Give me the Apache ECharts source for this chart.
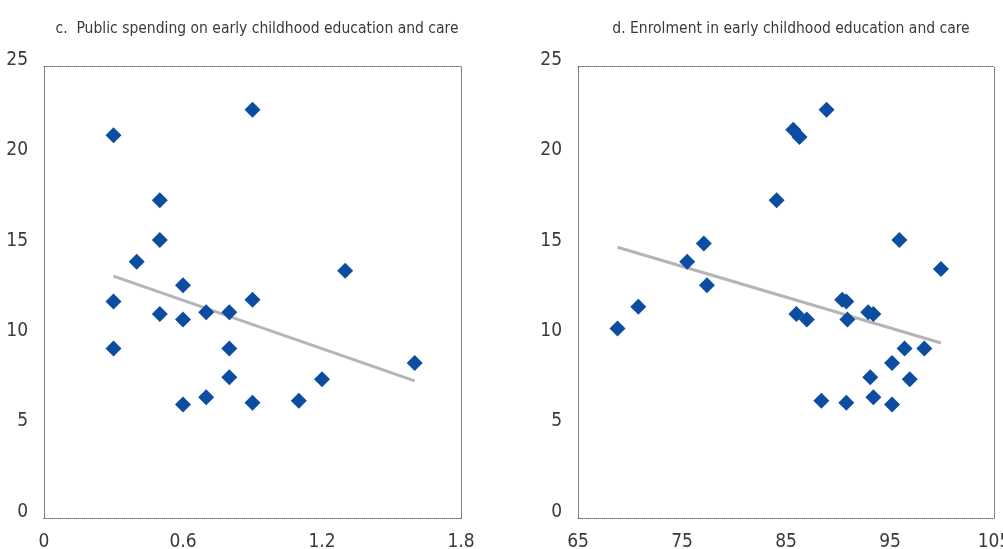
<!DOCTYPE html>
<html>
<head>
<meta charset="utf-8">
<script src="https://cdn.jsdelivr.net/npm/echarts@6/dist/echarts.min.js"></script>
<style>
  html, body { margin: 0; padding: 0; background: #fff; }
  #chart { width: 1003px; height: 549px; }
</style>
</head>
<body>
<div id="chart"></div>
<script>
// Panel c: public spending on ECEC (x) against the outcome rate (y)
const spendC = [0.3, 0.9, 0.5, 0.5, 0.4, 1.3, 0.6, 0.3, 0.9, 0.5, 0.6, 0.7, 0.8, 0.3, 0.8, 1.6, 0.8, 1.2, 0.7, 1.1, 0.9, 0.6];
const rateC  = [21.2, 22.6, 17.6, 15.4, 14.2, 13.7, 12.9, 12.0, 12.1, 11.3, 11.0, 11.4, 11.4, 9.4, 9.4, 8.6, 7.8, 7.7, 6.7, 6.5, 6.4, 6.3];
const trendC = [[0.3, 13.4], [1.6, 7.6]];

// Panel d: enrolment in ECEC (x) against the outcome rate (y)
const enrolD = [68.8, 70.8, 75.5, 77.1, 77.4, 84.1, 85.7, 86.3, 88.9, 86.0, 87.0, 90.4, 90.8, 90.9, 92.9, 93.4, 95.9, 99.9, 96.4, 98.3, 95.2, 93.1, 96.9, 88.4, 90.8, 93.4, 95.2];
const rateD  = [10.5, 11.7, 14.2, 15.2, 12.9, 17.6, 21.5, 21.1, 22.6, 11.3, 11.0, 12.1, 12.0, 11.0, 11.4, 11.3, 15.4, 13.8, 9.4, 9.4, 8.6, 7.8, 7.7, 6.5, 6.4, 6.7, 6.3];
const trendD = [[68.8, 15.0], [99.9, 9.7]];

// Axis ranges and tick steps
const xRangeC = { min: 0, max: 1.8, interval: 0.6 };
const xRangeD = { min: 65, max: 105, interval: 10 };
const yRange  = { min: 0, max: 25, interval: 5 };

const titles = [
  'c.  Public spending on early childhood education and care',
  'd. Enrolment in early childhood education and care'
];

const FONT = '"DejaVu Sans Condensed", "Liberation Sans Narrow", sans-serif';
const TEXT = '#3a3a3a';
const BLUE = '#0c4da2';
const TREND = '#b5b5b5';
const border = { show: true, onZero: false, lineStyle: { color: '#6a6a6a', width: 1, type: [1, 1] } };

function pairs(xs, ys) { return xs.map((x, i) => [x, ys[i]]); }

function labelledX(grid, range) {
  return {
    type: 'value', gridIndex: grid, position: 'bottom',
    min: range.min, max: range.max, interval: range.interval,
    axisLine: border, axisTick: { show: false }, splitLine: { show: false },
    axisLabel: { color: TEXT, fontFamily: FONT, fontSize: 19, margin: 14,
                 formatter: v => String(Math.round(v * 10) / 10) }
  };
}
function frameX(grid, range) {
  return {
    type: 'value', gridIndex: grid, position: 'top',
    min: range.min, max: range.max, interval: range.interval,
    axisLine: border, axisTick: { show: false }, splitLine: { show: false },
    axisLabel: { show: false }
  };
}
function labelledY(grid) {
  return {
    type: 'value', gridIndex: grid, position: 'left',
    min: yRange.min, max: yRange.max, interval: yRange.interval,
    axisLine: border, axisTick: { show: false }, splitLine: { show: false },
    axisLabel: { color: TEXT, fontFamily: FONT, fontSize: 19, margin: 16,
                 verticalAlign: 'bottom', lineHeight: 13 }
  };
}
function frameY(grid) {
  return {
    type: 'value', gridIndex: grid, position: 'right',
    min: yRange.min, max: yRange.max, interval: yRange.interval,
    axisLine: border, axisTick: { show: false }, splitLine: { show: false },
    axisLabel: { show: false }
  };
}

function trendSeries(x, y, data) {
  return {
    type: 'line', xAxisIndex: x, yAxisIndex: y, data: data,
    symbol: 'none', silent: true, z: 2,
    lineStyle: { color: TREND, width: 3 }
  };
}
function pointSeries(x, y, data) {
  return {
    type: 'scatter', xAxisIndex: x, yAxisIndex: y, data: data,
    symbol: 'diamond', symbolSize: 16, z: 3,
    itemStyle: { color: BLUE, opacity: 1 }
  };
}

const chart = echarts.init(document.getElementById('chart'), null, { renderer: 'canvas' });
chart.setOption({
  animation: false,
  backgroundColor: '#ffffff',
  textStyle: { fontFamily: FONT },
  title: [
    { text: titles[0], left: 252, top: 16, textAlign: 'center',
      textStyle: { color: TEXT, fontFamily: FONT, fontSize: 15.5, fontWeight: 'normal' } },
    { text: titles[1], left: 786, top: 16, textAlign: 'center',
      textStyle: { color: TEXT, fontFamily: FONT, fontSize: 15.5, fontWeight: 'normal' } }
  ],
  grid: [
    { left: 44, right: 542, top: 66.5, bottom: 30.7, containLabel: false, outerBoundsMode: 'none' },
    { left: 578, right: 9, top: 66.5, bottom: 30.7, containLabel: false, outerBoundsMode: 'none' }
  ],
  xAxis: [
    labelledX(0, xRangeC), frameX(0, xRangeC),
    labelledX(1, xRangeD), frameX(1, xRangeD)
  ],
  yAxis: [
    labelledY(0), frameY(0),
    labelledY(1), frameY(1)
  ],
  series: [
    trendSeries(0, 0, trendC),
    pointSeries(0, 0, pairs(spendC, rateC)),
    trendSeries(2, 2, trendD),
    pointSeries(2, 2, pairs(enrolD, rateD))
  ]
});
</script>
</body>
</html>
